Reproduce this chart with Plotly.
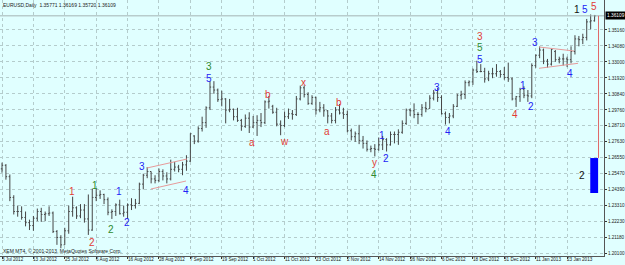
import pandas as pd
import plotly.graph_objects as go

# ---------------- data ----------------
dates = [d for d in pd.bdate_range("2012-07-03", "2013-02-01")
         if d.strftime("%Y-%m-%d") not in ("2012-12-25", "2013-01-01")]

opens = [1.2578,1.2602,1.2525,1.2385,1.2290,1.2290,1.2250,1.2215,1.2195,1.2245,
         1.2290,1.2270,1.2275,1.2280,1.2155,1.2115,1.2065,1.2160,1.2290,1.2315,
         1.2260,1.2300,1.2240,1.2165,1.2385,1.2400,1.2405,1.2370,1.2285,1.2290,
         1.2335,1.2275,1.2285,1.2335,1.2330,1.2345,1.2475,1.2535,1.2560,1.2510,
         1.2500,1.2560,1.2530,1.2510,1.2575,1.2590,1.2575,1.2605,1.2630,1.2800,
         1.2765,1.2850,1.2890,1.2990,1.3130,1.3110,1.3045,1.3050,1.2975,1.2980,
         1.2930,1.2905,1.2865,1.2920,1.2860,1.2890,1.2905,1.2890,1.3030,1.3000,
         1.2960,1.2880,1.2870,1.2930,1.2950,1.2945,1.3050,1.3125,1.3080,1.3020,
         1.3060,1.2975,1.2990,1.2970,1.2935,1.2905,1.2975,1.2955,1.2945,1.2835,
         1.2795,1.2815,1.2770,1.2750,1.2710,1.2715,1.2710,1.2740,1.2775,1.2740,
         1.2810,1.2810,1.2825,1.2885,1.2975,1.2970,1.2945,1.2945,1.2990,1.2985,
         1.3055,1.3090,1.3060,1.2950,1.2925,1.2935,1.3000,1.3075,1.3080,1.3160,
         1.3165,1.3245,1.3235,1.3235,1.3185,1.3220,1.3220,1.3235,1.3215,1.3195,
         1.3185,1.3050,1.3065,1.3115,1.3075,1.3070,1.3275,1.3345,1.3380,1.3305,
         1.3285,1.3370,1.3315,1.3320,1.3320,1.3315,1.3370,1.3455,1.3450,1.3465,
         1.3570,1.35771]
highs = [1.2620,1.2610,1.2540,1.2400,1.2330,1.2325,1.2290,1.2235,1.2260,1.2310,
         1.2315,1.2290,1.2325,1.2290,1.2165,1.2130,1.2180,1.2330,1.2390,1.2325,
         1.2340,1.2340,1.2405,1.2444,1.2443,1.2433,1.2410,1.2385,1.2305,1.2345,
         1.2370,1.2330,1.2345,1.2380,1.2375,1.2485,1.2545,1.2590,1.2560,1.2535,
         1.2580,1.2575,1.2555,1.2640,1.2625,1.2605,1.2625,1.2670,1.2818,1.2805,
         1.2865,1.2930,1.3000,1.3170,1.3170,1.3120,1.3105,1.3055,1.3050,1.2985,
         1.2990,1.2915,1.2945,1.2960,1.2935,1.2940,1.2955,1.3040,1.3070,1.3010,
         1.2990,1.2905,1.2965,1.2985,1.2975,1.3070,1.3140,1.3140,1.3095,1.3075,
         1.3065,1.3030,1.3015,1.2975,1.2955,1.2995,1.3015,1.2990,1.2970,1.2850,
         1.2830,1.2875,1.2800,1.2770,1.2735,1.2745,1.2790,1.2800,1.2785,1.2830,
         1.2830,1.2845,1.2905,1.2985,1.2985,1.3020,1.2960,1.3015,1.3030,1.3075,
         1.3110,1.3125,1.3075,1.2965,1.2955,1.3015,1.3085,1.3105,1.3175,1.3175,
         1.3255,1.3308,1.3285,1.3260,1.3240,1.3260,1.3285,1.3245,1.3265,1.3295,
         1.3195,1.3070,1.3125,1.3135,1.3110,1.3290,1.3350,1.3404,1.3390,1.3320,
         1.3390,1.3380,1.3335,1.3355,1.3335,1.3405,1.3480,1.3475,1.3490,1.3590,
         1.3620,1.36169]
lows  = [1.2552,1.2505,1.2360,1.2270,1.2255,1.2235,1.2190,1.2165,1.2160,1.2225,
         1.2220,1.2225,1.2260,1.2145,1.2065,1.2042,1.2065,1.2140,1.2255,1.2240,
         1.2245,1.2215,1.2132,1.2160,1.2360,1.2375,1.2340,1.2265,1.2240,1.2260,
         1.2270,1.2255,1.2240,1.2300,1.2310,1.2340,1.2440,1.2515,1.2480,1.2480,
         1.2490,1.2500,1.2480,1.2500,1.2560,1.2555,1.2535,1.2565,1.2625,1.2745,
         1.2755,1.2830,1.2855,1.2975,1.3085,1.3030,1.3000,1.2885,1.2960,1.2905,
         1.2895,1.2835,1.2855,1.2820,1.2855,1.2800,1.2860,1.2880,1.2985,1.2950,
         1.2865,1.2805,1.2860,1.2915,1.2910,1.2935,1.3040,1.3060,1.3010,1.3010,
         1.2945,1.2960,1.2930,1.2885,1.2885,1.2885,1.2945,1.2915,1.2825,1.2770,
         1.2760,1.2745,1.2715,1.2695,1.2690,1.2662,1.2700,1.2705,1.2695,1.2735,
         1.2750,1.2740,1.2815,1.2875,1.2935,1.2920,1.2880,1.2930,1.2960,1.2985,
         1.3040,1.3030,1.2945,1.2877,1.2885,1.2920,1.2995,1.3045,1.3050,1.3135,
         1.3145,1.3225,1.3230,1.3160,1.3170,1.3190,1.3200,1.3195,1.3180,1.3165,
         1.3040,1.2996,1.3030,1.3055,1.3030,1.3055,1.3260,1.3325,1.3285,1.3260,
         1.3275,1.3300,1.3290,1.3275,1.3265,1.3290,1.3350,1.3405,1.3420,1.3445,
         1.3520,1.35720]
closes = [1.2602,1.2525,1.2385,1.2290,1.2290,1.2250,1.2215,1.2195,1.2245,1.2290,
          1.2270,1.2275,1.2280,1.2155,1.2115,1.2065,1.2160,1.2290,1.2315,1.2260,
          1.2300,1.2240,1.2165,1.2385,1.2400,1.2405,1.2370,1.2285,1.2290,1.2335,
          1.2275,1.2285,1.2335,1.2330,1.2345,1.2475,1.2535,1.2560,1.2510,1.2500,
          1.2560,1.2530,1.2510,1.2575,1.2590,1.2575,1.2605,1.2630,1.2815,1.2765,
          1.2850,1.2890,1.2990,1.3130,1.3110,1.3045,1.3050,1.2975,1.2980,1.2930,
          1.2905,1.2865,1.2920,1.2860,1.2890,1.2905,1.2890,1.3030,1.3035,1.2960,
          1.2880,1.2870,1.2930,1.2950,1.2945,1.3050,1.3125,1.3080,1.3020,1.3060,
          1.2975,1.2990,1.2970,1.2935,1.2905,1.2975,1.2955,1.2945,1.2835,1.2795,
          1.2815,1.2770,1.2750,1.2710,1.2715,1.2710,1.2740,1.2775,1.2740,1.2810,
          1.2810,1.2825,1.2885,1.2975,1.2970,1.2945,1.2945,1.2990,1.2985,1.3055,
          1.3090,1.3060,1.2950,1.2925,1.2935,1.3000,1.3075,1.3080,1.3160,1.3165,
          1.3245,1.3235,1.3235,1.3185,1.3220,1.3220,1.3235,1.3215,1.3195,1.3185,
          1.3050,1.3065,1.3115,1.3075,1.3070,1.3275,1.3345,1.3380,1.3305,1.3285,
          1.3385,1.3315,1.3320,1.3320,1.3315,1.3370,1.3455,1.3450,1.3465,1.3570,
          1.3577,1.36109]

price_ticks = [1.35160,1.34080,1.33000,1.31920,1.30840,1.29760,1.28710,1.27630,
               1.26550,1.25470,1.24390,1.23310,1.22230,1.21180,1.20100]
price_tick_text = ["%.5f" % v for v in price_ticks]
date_tick_step = 8
bid = 1.36109
header = "EURUSD,Daily  1.35771 1.36169 1.35720 1.36109"
copyright_text = "XEM MT4, \u00a9 2001-2013, MetaQuotes Software Corp."

# wave labels: text, colour key, bar position, price
wave_text  = ["1","2","1","2","1","2","3","4","3","5","a","b","w","x","a","b","y","4",
              "1","2","3","4","3","5","5","4","1","2","3","4","1","5","5","2"]
wave_col   = ["r","r","g","g","b","b","b","b","g","b","r","r","r","r","r","r","r","g",
              "b","b","b","b","r","g","b","r","b","b","b","b","k","b","r","k"]
wave_bar   = [17.8,22.9,23.7,27.8,29.8,31.9,35.7,46.9,52.75,52.75,63.7,67.8,71.9,76.7,
              82.8,85.9,94.8,94.8,96.8,97.9,110.9,113.7,121.8,121.8,121.8,130.7,132.8,
              134.8,135.8,144.75,146.5,148.6,150.9,147.8]
wave_price = [1.2422,1.2078,1.2469,1.2172,1.2422,1.2219,1.2597,1.2429,1.3268,1.3190,
              1.2759,1.3077,1.2766,1.3164,1.2827,1.3023,1.2620,1.2542,1.2800,1.2651,
              1.3124,1.2827,1.3470,1.3394,1.3318,1.2942,1.3144,1.3002,1.3428,1.3225,
              1.3657,1.3657,1.3671,1.2530]
colours = {"r": "#e23b35", "g": "#2e8a2e", "b": "#2323f5", "k": "#111111"}

# hand-drawn pattern lines: (bar0, price0, bar1, price1)
pattern_lines = [(36.95, 1.25838, 47.15, 1.26445),
                 (37.97, 1.24420, 46.89, 1.24960),
                 (136.85, 1.34005, 145.77, 1.33735),
                 (136.85, 1.32567, 146.79, 1.32905)]
# indicator block at the right edge
block_bars = (149.9, 151.9)
block_prices = (1.2415, 1.2651)
stem_bar = 152.0

# ---------------- figure ----------------
n = len(closes)
idx = list(range(n))
bg = "#e0ffff"
bar_col = "#454545"

fig = go.Figure()
fig.add_trace(go.Ohlc(x=idx, open=opens, high=highs, low=lows, close=closes,
                      increasing=dict(line=dict(color=bar_col, width=1)),
                      decreasing=dict(line=dict(color=bar_col, width=1)),
                      tickwidth=0.3, hoverinfo="skip", showlegend=False))

shapes = []
for b0, p0, b1, p1 in pattern_lines:
    shapes.append(dict(type="line", xref="x", yref="y", x0=b0, y0=p0, x1=b1, y1=p1,
                       line=dict(color="#e79a9a", width=1)))
shapes.append(dict(type="line", xref="paper", yref="y", x0=0, x1=1, y0=bid, y1=bid,
                   line=dict(color="#a4b4b4", width=1)))
shapes.append(dict(type="rect", xref="x", yref="y", x0=block_bars[0], x1=block_bars[1],
                   y0=block_prices[0], y1=block_prices[1],
                   fillcolor="#0000ff", line=dict(width=0)))
shapes.append(dict(type="line", xref="x", yref="y", x0=stem_bar, x1=stem_bar,
                   y0=block_prices[1], y1=bid, line=dict(color="#e06a6a", width=1)))

ann = []
for t, c, b, p in zip(wave_text, wave_col, wave_bar, wave_price):
    ann.append(dict(x=b, y=p, xref="x", yref="y", text=t, showarrow=False, borderpad=0,
                    font=dict(family="Liberation Sans, Arial", size=10, color=colours[c])))
for i in range(0, n, date_tick_step):
    d = dates[i]
    ann.append(dict(x=i, y=0, xref="x", yref="paper", xanchor="left", yanchor="top",
                    text="%d %s" % (d.day, d.strftime("%b %Y")), showarrow=False,
                    xshift=-1, yshift=0, borderpad=0,
                    font=dict(family="Liberation Sans, Arial", size=4.6, color="#222222")))
ann.append(dict(x=0, y=1, xref="paper", yref="paper", xanchor="left", yanchor="top",
                text=header, showarrow=False, xshift=2, yshift=-1, borderpad=0,
                font=dict(family="Liberation Sans, Arial", size=5, color="#222222")))
ann.append(dict(x=0, y=0, xref="paper", yref="paper", xanchor="left", yanchor="bottom",
                text=copyright_text, showarrow=False, xshift=2, yshift=1, borderpad=0,
                font=dict(family="Liberation Sans, Arial", size=5, color="#222222")))
ann.append(dict(x=1, y=bid, xref="paper", yref="y", xanchor="left", yanchor="middle",
                text="1.36109", showarrow=False, xshift=1, bgcolor="#000000", borderpad=1,
                font=dict(family="Liberation Sans, Arial", size=4.8, color="#ffffff")))

fig.update_layout(
    width=625, height=265,
    margin=dict(l=0, r=21, t=0, b=9, pad=0),
    paper_bgcolor=bg, plot_bgcolor=bg,
    shapes=shapes, annotations=ann,
    xaxis=dict(range=[-0.51, 153.4], showgrid=True, gridcolor="#b4cccc", griddash="dot",
               gridwidth=1, tickvals=list(range(0, n, date_tick_step)),
               showticklabels=False, ticks="outside", ticklen=2, tickcolor="#333",
               showline=True, linecolor="#555555", linewidth=1, zeroline=False,
               rangeslider=dict(visible=False), fixedrange=True),
    yaxis=dict(range=[1.198975, 1.371775], side="right", tickvals=price_ticks,
               ticktext=price_tick_text, showgrid=True, gridcolor="#b4cccc",
               griddash="dot", gridwidth=1, ticks="outside", ticklen=2, tickcolor="#333",
               tickfont=dict(family="Liberation Sans, Arial", size=4.6, color="#222222"),
               showline=True, linecolor="#555555", linewidth=1, zeroline=False,
               fixedrange=True),
)

fig.write_html("out.html")
